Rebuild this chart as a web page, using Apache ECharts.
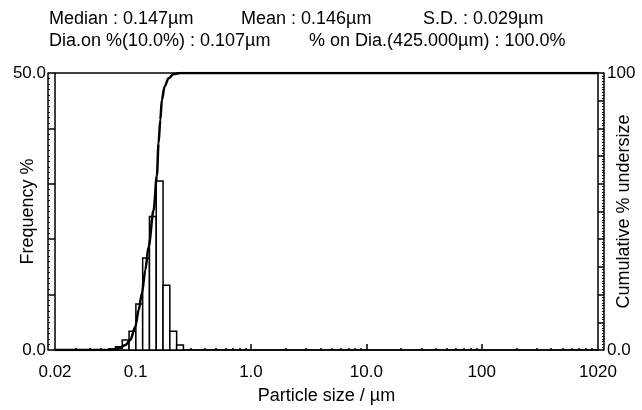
<!DOCTYPE html>
<html>
<head>
<meta charset="utf-8">
<script src="https://cdn.jsdelivr.net/npm/echarts@6/dist/echarts.min.js"></script>
<style>
  html, body { margin: 0; padding: 0; background: #fff; }
  #chart { width: 642px; height: 410px; }
</style>
</head>
<body>
<div id="chart"></div>
<script>
// histogram bins (size classes, um) and frequency %
const binLow  = [0.0584, 0.0669, 0.0766, 0.0877, 0.1005, 0.1151, 0.1318, 0.1509, 0.1729, 0.1980, 0.2268];
const binHigh = [0.0669, 0.0766, 0.0877, 0.1005, 0.1151, 0.1318, 0.1509, 0.1729, 0.1980, 0.2268, 0.2597];
const freq    = [0.2, 0.6, 1.8, 3.4, 8.3, 16.6, 24.1, 30.5, 11.7, 3.4, 0.9];

// cumulative curve, % undersize
const cumSize = [0.02, 0.0623, 0.0713, 0.0815, 0.0900, 0.0994, 0.1062, 0.1134, 0.1213, 0.1296, 0.1432,
                 0.1529, 0.1580, 0.1636, 0.1689, 0.1783, 0.1930, 0.2133, 0.2438, 1020];
const cumPct  = [0, 0, 0.6, 1.8, 3.6, 8.4, 14.4, 20.5, 28.9, 37.3, 50.5,
                 63.0, 74.6, 83.0, 90.3, 95.1, 98.1, 99.6, 100, 100];

// x axis ticks / labels
const xTickValues = [0.02, 0.1, 1, 10, 100, 1020];
const xTickLabels = ['0.02', '0.1', '1.0', '10.0', '100', '1020'];
const xMajorTicks = [0.1, 1, 10, 100];

// header text
const statLine1 = ['Median : 0.147\u00b5m', 'Mean : 0.146\u00b5m', 'S.D. : 0.029\u00b5m'];
const statLine2 = ['Dia.on %(10.0%) : 0.107\u00b5m', '% on Dia.(425.000\u00b5m) : 100.0%'];

// minor tick positions on the log axis (2..9 per decade)
let xMinorTicks = [];
[0.01, 0.1, 1, 10, 100, 1000].forEach(function (d) {
    for (let m = 2; m <= 9; m++) {
        let v = +(m * d).toPrecision(6);
        if (v > 0.02 && v < 1020) xMinorTicks.push(v);
    }
});

const FONT = '"Liberation Sans", Arial, Helvetica, sans-serif';

function xLabel(v) {
    for (let i = 0; i < xTickValues.length; i++) {
        if (Math.abs(Math.log10(v) - Math.log10(xTickValues[i])) < 1e-6) return xTickLabels[i];
    }
    return '';
}

let histData = binLow.map(function (lo, i) { return [lo, binHigh[i], freq[i]]; });
let cumData = cumSize.map(function (s, i) { return [s, cumPct[i]]; });

let chart = echarts.init(document.getElementById('chart'), null, { renderer: 'canvas' });

function header(txt, x, y) {
    return {
        type: 'text', x: x, y: y,
        style: { text: txt, font: '18px ' + FONT, fill: '#000', textVerticalAlign: 'top' }
    };
}

let option = {
    backgroundColor: '#fff',
    animation: false,
    textStyle: { fontFamily: FONT },
    graphic: [
        header(statLine1[0], 49, 10),
        header(statLine1[1], 241, 10),
        header(statLine1[2], 423, 10),
        header(statLine2[0], 49, 32),
        header(statLine2[1], 309, 32)
    ],
    grid: {
        left: 55, right: 44, top: 73, bottom: 60,
        outerBoundsMode: 'none', containLabel: false,
        show: true, borderColor: '#000', borderWidth: 1.5, backgroundColor: 'transparent'
    },
    xAxis: [
        {
            type: 'log', min: 0.02, max: 1020, position: 'bottom', offset: 6,
            name: 'Particle size / \u00b5m', nameLocation: 'middle', nameGap: 31, nameMoveOverlap: false,
            nameTextStyle: { fontSize: 18, color: '#000', fontFamily: FONT },
            axisLine: { show: true, lineStyle: { color: '#000', width: 1.5 } },
            axisTick: { show: true, inside: true, length: 6, customValues: xMajorTicks, lineStyle: { color: '#000', width: 1.5 } },
            axisLabel: { customValues: xTickValues, formatter: xLabel, margin: 8, fontSize: 17, color: '#000', fontFamily: FONT },
            splitLine: { show: false }
        },
        {
            type: 'log', min: 0.02, max: 1020, position: 'bottom', offset: 6,
            axisLine: { show: false },
            axisTick: { show: true, inside: true, length: 2, customValues: xMinorTicks, lineStyle: { color: '#000', width: 1.5 } },
            axisLabel: { show: false },
            splitLine: { show: false }
        }
    ],
    yAxis: [
        {
            type: 'value', min: 0, max: 50, interval: 10, position: 'left', offset: 7,
            name: 'Frequency %', nameLocation: 'middle', nameRotate: 90, nameGap: 11, nameMoveOverlap: false,
            nameTextStyle: { fontSize: 18, color: '#000', fontFamily: FONT },
            axisLine: { show: true, lineStyle: { color: '#000', width: 1.5 } },
            axisTick: { show: true, inside: true, length: 7, lineStyle: { color: '#000', width: 1.5 } },
            minorTick: { show: true, splitNumber: 10, length: 2, lineStyle: { color: '#000', width: 1 } },
            axisLabel: { customValues: [0, 50], formatter: function (v) { return v.toFixed(1); }, margin: 2, fontSize: 17, color: '#000', fontFamily: FONT },
            splitLine: { show: false }
        },
        {
            type: 'value', min: 0, max: 100, interval: 10, position: 'right', offset: 6,
            name: 'Cumulative % undersize', nameLocation: 'middle', nameRotate: 90, nameGap: 11, nameMoveOverlap: false,
            nameTextStyle: { fontSize: 18, color: '#000', fontFamily: FONT },
            axisLine: { show: true, lineStyle: { color: '#000', width: 1.5 } },
            axisTick: { show: true, inside: true, length: 6, lineStyle: { color: '#000', width: 1.5 } },
            minorTick: { show: true, splitNumber: 10, length: 2, lineStyle: { color: '#000', width: 1 } },
            axisLabel: { customValues: [0, 100], formatter: function (v) { return v === 0 ? '0.0' : String(v); }, margin: 3, fontSize: 17, color: '#000', fontFamily: FONT },
            splitLine: { show: false }
        }
    ],
    series: [
        {
            type: 'custom',
            xAxisIndex: 0, yAxisIndex: 0,
            encode: { x: [0, 1], y: 2 },
            data: histData,
            renderItem: function (params, api) {
                let p0 = api.coord([api.value(0), api.value(2)]);
                let p1 = api.coord([api.value(1), 0]);
                return {
                    type: 'rect',
                    shape: { x: p0[0], y: p0[1], width: p1[0] - p0[0], height: p1[1] - p0[1] },
                    style: { fill: '#fff', stroke: '#000', lineWidth: 1.5 }
                };
            },
            z: 2
        },
        {
            type: 'line',
            xAxisIndex: 0, yAxisIndex: 1,
            data: cumData,
            showSymbol: false,
            smooth: 0.3,
            smoothMonotone: 'x',
            lineStyle: { color: '#000', width: 2.5 },
            z: 3
        }
    ]
};

chart.setOption(option);
</script>
</body>
</html>
